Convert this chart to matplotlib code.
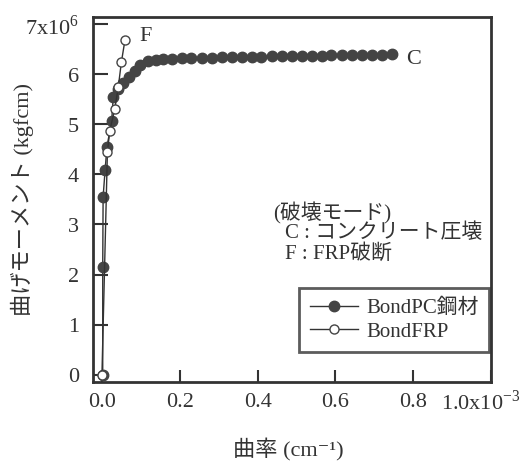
import matplotlib
matplotlib.use("Agg")
import matplotlib.pyplot as plt
import matplotlib.transforms as mtransforms

plt.rcParams['font.family'] = ['Liberation Serif', 'Noto Sans CJK JP', 'DejaVu Sans']
plt.rcParams['mathtext.fontset'] = 'custom'
plt.rcParams['mathtext.rm'] = 'Liberation Serif'

# Data (curvature in 1e-3 cm^-1, moment in 1e6 kgfcm)
steel_x = [0.002, 0.002, 0.003, 0.008, 0.013, 0.025, 0.029, 0.042, 0.055, 0.070, 0.085,
           0.099, 0.119, 0.140, 0.157, 0.179, 0.205, 0.230, 0.256, 0.282, 0.308,
           0.333, 0.359, 0.385, 0.410, 0.436, 0.462, 0.488, 0.513, 0.539, 0.565,
           0.590, 0.616, 0.642, 0.668, 0.693, 0.719, 0.746]
steel_y = [0.0, 2.15, 3.55, 4.08, 4.56, 5.07, 5.55, 5.71, 5.83, 5.95, 6.07,
           6.18, 6.26, 6.29, 6.30, 6.31, 6.32, 6.32, 6.33, 6.33, 6.34,
           6.34, 6.35, 6.35, 6.35, 6.36, 6.36, 6.36, 6.37, 6.37, 6.37,
           6.38, 6.38, 6.38, 6.39, 6.39, 6.39, 6.40]
frp_x = [0.0, 0.014, 0.020, 0.033, 0.042, 0.050, 0.059]
frp_y = [0.0, 4.44, 4.87, 5.31, 5.75, 6.25, 6.68]

x_ticks = [0.0, 0.2, 0.4, 0.6, 0.8, 1.0]
x_labels = ['0.0', '0.2', '0.4', '0.6', '0.8', r'1.0x10$^{-3}$']
y_ticks = [0, 1, 2, 3, 4, 5, 6, 7]
y_labels = ['0', '1', '2', '3', '4', '5', '6', r'7x10$^{6}$']

ink = '#333333'
W, H = 523, 465
fig = plt.figure(figsize=(W / 100, H / 100), dpi=100)
ax = fig.add_axes([93 / W, 1 - 382 / H, 398 / W, 365 / H])

ax.plot(steel_x, steel_y, '-o', color=ink, lw=1.0, ms=7.5, mfc='#444444', mec='#444444',
        label='BondPC鋼材', zorder=3)
ax.plot(frp_x, frp_y, '-o', color=ink, lw=1.0, ms=6.5, mfc='white', mec='#444444',
        mew=1.0, label='BondFRP', zorder=4)

ax.set_xlim(-0.023, 1.0)
ax.set_ylim(-0.15, 7.15)
ax.set_xticks(x_ticks)
ax.set_xticklabels(x_labels)
ax.set_yticks(y_ticks)
ax.set_yticklabels(y_labels)

for s in ax.spines.values():
    s.set_color(ink)
    s.set_linewidth(2.0)
ax.tick_params(axis='both', direction='in', colors=ink, labelsize=16, width=1.5)
ax.tick_params(axis='y', length=11, pad=10)
ax.tick_params(axis='x', length=9, pad=8)

# shift last x label left
lbl = ax.get_xticklabels()[-1]
lbl.set_transform(lbl.get_transform() + mtransforms.ScaledTranslation(-0.10, 0.03, fig.dpi_scale_trans))

ax.text(0.113, 6.76, 'F', fontsize=16, color=ink, ha='center', va='center')
ax.text(0.80, 6.30, 'C', fontsize=16, color=ink, ha='center', va='center')

fig.text(273 / W, 1 - 213 / H, '(破壊モード)', fontsize=15, color=ink, va='center', ha='left')
fig.text(285 / W, 1 - 233 / H, 'C : コンクリート圧壊', fontsize=15, color=ink, va='center', ha='left')
fig.text(285 / W, 1 - 254 / H, 'F : FRP破断', fontsize=15, color=ink, va='center', ha='left')

leg = ax.legend(loc='upper right', bbox_to_anchor=(0.995, 0.2575), fontsize=15,
                frameon=True, fancybox=False, handlelength=2.3, borderpad=0.5,
                labelspacing=0.2, handletextpad=0.4, borderaxespad=0.0)
leg.get_frame().set_edgecolor(ink)
leg.get_frame().set_linewidth(2.0)
for t in leg.get_texts():
    t.set_color(ink)

ax.set_xlabel('曲率 (cm⁻¹)', fontsize=16, color=ink)
ax.xaxis.set_label_coords(0.49, -0.155)
ax.set_ylabel('曲げモーメント (kgfcm)', fontsize=16, color=ink, va='center')
ax.yaxis.set_label_coords(-0.178, 0.50)

fig.savefig('out.png', dpi=100)
